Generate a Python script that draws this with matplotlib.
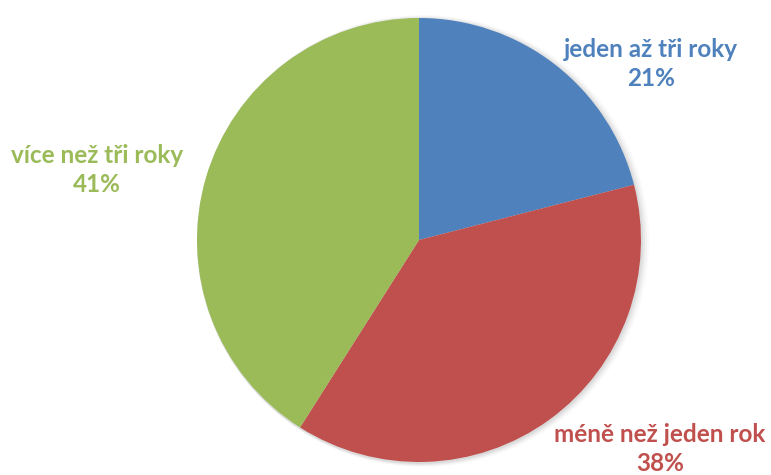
import matplotlib.pyplot as plt
from matplotlib.patches import Circle

labels = ["jeden až tři roky", "méně než jeden rok", "více než tři roky"]
shares = [21, 38, 41]
colors = ["#4F81BD", "#C0504D", "#9BBB59"]

plt.rcParams["font.family"] = ["Lato", "DejaVu Sans"]

fig = plt.figure(figsize=(7.71, 4.75), dpi=100)
ax = fig.add_axes([0, 0, 1, 1])

cx, cy, r = 419, 235, 222

# soft shadow on the right edge
for i, a in enumerate([0.05, 0.04, 0.03, 0.02]):
    ax.add_patch(Circle((cx + 1 + i, cy - 1), r + 1 + i, color="black", alpha=a, lw=0, zorder=0))

ax.pie(shares, colors=colors, startangle=90, counterclock=False,
       center=(cx, cy), radius=r, frame=True,
       wedgeprops=dict(linewidth=0))
ax.set_xlim(0, 771)
ax.set_ylim(0, 475)
ax.set_aspect("equal")
ax.axis("off")

label_pos = [(651, 411), (660, 26), (97, 305)]
for lab, val, col, (x, y) in zip(labels, shares, colors, label_pos):
    ax.text(x, y, f"{lab}\n{val}%", color=col, fontsize=17.5, fontweight="bold",
            ha="center", va="center", linespacing=1.3)

fig.savefig("out.png", dpi=100)
